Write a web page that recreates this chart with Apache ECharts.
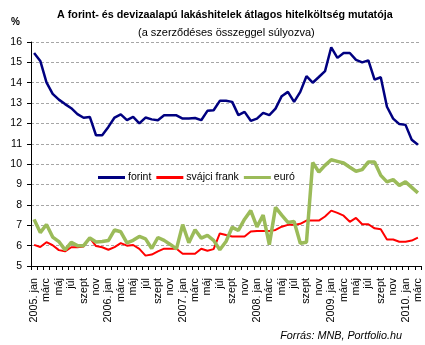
<!DOCTYPE html>
<html><head><meta charset="utf-8">
<script src="https://cdn.jsdelivr.net/npm/echarts@6/dist/echarts.min.js"></script>
<style>html,body{margin:0;padding:0;background:#fff}#c{width:425px;height:345px}</style>
</head><body><div id="c"></div>
<script>
const years = [2005, 2006, 2007, 2008, 2009, 2010];
const monthNames = ['jan','febr','márc','ápr','máj','jún','júl','aug','szept','okt','nov','dec'];
const monthCount = 63;
const yTicks = [5,6,7,8,9,10,11,12,13,14,15,16];

const forint = [15.46,15.07,14.02,13.45,13.17,12.95,12.75,12.46,12.28,12.32,11.42,11.42,11.83,12.29,12.45,12.16,12.32,12.0,12.29,12.2,12.16,12.4,12.4,12.4,12.24,12.24,12.27,12.16,12.62,12.65,13.11,13.11,13.06,12.41,12.57,12.13,12.24,12.52,12.41,12.73,13.34,13.55,13.06,13.55,14.32,14.0,14.28,14.57,15.74,15.22,15.46,15.46,15.12,15.0,15.1,14.15,14.27,12.82,12.24,11.97,11.93,11.2,10.95];
const svajciFrank = [6.04,5.93,6.17,6.02,5.78,5.72,5.92,5.92,5.96,6.38,5.98,5.92,5.8,5.93,6.12,6.0,6.03,5.84,5.51,5.56,5.72,5.85,5.85,5.85,5.6,5.6,5.6,5.85,5.75,5.83,6.6,6.52,6.45,6.45,6.45,6.69,6.72,6.72,6.72,6.77,6.93,7.02,7.02,7.07,7.23,7.23,7.23,7.43,7.72,7.61,7.47,7.17,7.36,7.05,7.05,6.85,6.8,6.3,6.3,6.19,6.19,6.25,6.39];
const euro = [7.29,6.64,7.04,6.42,6.2,5.79,6.16,6.0,6.0,6.38,6.18,6.2,6.25,6.77,6.68,6.14,6.26,6.45,6.33,5.86,6.4,6.26,6.06,5.84,7.03,6.14,6.78,6.37,6.5,6.26,5.8,6.2,6.9,6.75,7.3,7.72,6.92,7.5,6.05,7.88,7.5,7.14,7.18,6.12,6.17,10.08,9.62,9.94,10.22,10.14,10.06,9.85,9.65,9.73,10.11,10.11,9.45,9.13,9.24,8.96,9.13,8.86,8.59];

const categories = [];
for (let i = 0; i < monthCount; i++) {
  const m = i % 12;
  categories.push(m === 0 ? years[Math.floor(i / 12)] + '. jan' : monthNames[m]);
}

const FONT = '"Liberation Sans", Arial, sans-serif';
const chart = echarts.init(document.getElementById('c'), null, {renderer: 'canvas'});
chart.setOption({
  animation: false,
  backgroundColor: '#ffffff',
  title: [
    {text: 'A forint- és devizaalapú lakáshitelek átlagos hitelköltség mutatója',
     left: 57, top: 9.5, padding: 0,
     textStyle: {fontFamily: FONT, fontSize: 10.75, fontWeight: 'bold', color: '#000'}},
    {text: '(a szerződéses összeggel súlyozva)',
     left: 138, top: 27.5, padding: 0,
     textStyle: {fontFamily: FONT, fontSize: 11, fontWeight: 'normal', color: '#000'}},
    {text: '%', left: 11, top: 17.5, padding: 0,
     textStyle: {fontFamily: FONT, fontSize: 10, fontWeight: 'bold', color: '#000'}},
    {text: 'Forrás: MNB, Portfolio.hu', right: 23, top: 330, padding: 0,
     textStyle: {fontFamily: FONT, fontSize: 10.8, fontStyle: 'italic', fontWeight: 'normal', color: '#000'}}
  ],
  legend: {
    left: 98, top: 172, itemWidth: 27, itemHeight: 3, itemGap: 5, padding: 0, icon: 'rect',
    textStyle: {fontFamily: FONT, fontSize: 10.5, color: '#000', padding: [0, 0, 0, -2]},
    data: ['forint', 'svájci frank', 'euró']
  },
  grid: {left: 31, right: 4, top: 42, bottom: 79, containLabel: false, outerBoundsMode: 'none'},
  xAxis: {
    type: 'category', data: categories, boundaryGap: true,
    axisLine: {lineStyle: {color: '#000', width: 1}},
    axisTick: {show: true, interval: 0, length: 4, lineStyle: {color: '#000'}},
    axisLabel: {interval: 1, rotate: 90, margin: 12, fontFamily: FONT, fontSize: 10.8, color: '#000'},
    splitLine: {show: false}
  },
  yAxis: {
    type: 'value', min: yTicks[0], max: yTicks[yTicks.length - 1], interval: 1,
    axisLine: {show: true, lineStyle: {color: '#000', width: 1}},
    axisTick: {show: true, length: 4, lineStyle: {color: '#000'}},
    axisLabel: {margin: 9, fontFamily: FONT, fontSize: 10.5, color: '#000'},
    splitLine: {show: true, lineStyle: {color: '#A6A6A6', type: [3, 2], width: 1}}
  },
  series: [
    {name: 'forint', type: 'line', data: forint, symbol: 'none', color: '#000080',
     lineStyle: {color: '#000080', width: 2.5}},
    {name: 'svájci frank', type: 'line', data: svajciFrank, symbol: 'none', color: '#FF0000',
     lineStyle: {color: '#FF0000', width: 2}},
    {name: 'euró', type: 'line', data: euro, symbol: 'none', color: '#9BBB59',
     lineStyle: {color: '#9BBB59', width: 3.5}}
  ]
});
</script></body></html>
